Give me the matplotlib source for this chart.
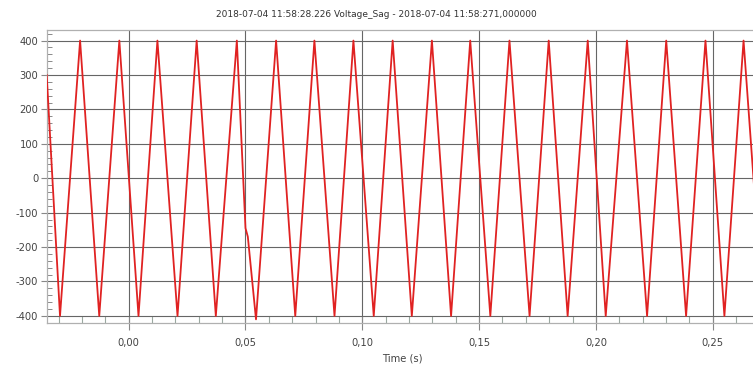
import matplotlib
matplotlib.use('Agg')
import matplotlib.pyplot as plt
from matplotlib.ticker import MultipleLocator, FuncFormatter

# waveform vertices (time in s, voltage)
time_s = [-0.0351, -0.0294, -0.0208, -0.0126, -0.0040, 0.0042, 0.0123, 0.0209,
          0.0291, 0.0373, 0.0463, 0.0500, 0.0510, 0.0545, 0.0631, 0.0713,
          0.0795, 0.0881, 0.0962, 0.1049, 0.1130, 0.1212, 0.1298, 0.1380,
          0.1462, 0.1548, 0.1630, 0.1716, 0.1798, 0.1879, 0.1965, 0.2042,
          0.2133, 0.2219, 0.2301, 0.2386, 0.2469, 0.2550, 0.2632, 0.2717]
voltage = [300, -400, 400, -400, 400, -400, 400, -400,
           400, -400, 400, -145, -170, -410, 400, -400,
           400, -400, 400, -400, 400, -400, 400, -400,
           400, -400, 400, -400, 400, -400, 400, -400,
           400, -400, 400, -400, 400, -400, 400, -400]

title = '2018-07-04 11:58:28.226 Voltage_Sag - 2018-07-04 11:58:271,000000'
xlabel = 'Time (s)'

fig = plt.figure(figsize=(7.53, 3.74), dpi=100)
ax = fig.add_axes([0.062, 0.136, 0.945, 0.784])

ax.plot(time_s, voltage, color='#e02222', linewidth=1.3, zorder=3)

ax.set_xlim(-0.0351, 0.2695)
ax.set_ylim(-421, 431)

ax.xaxis.set_major_locator(MultipleLocator(0.05))
ax.xaxis.set_minor_locator(MultipleLocator(0.01))
ax.yaxis.set_major_locator(MultipleLocator(100))
ax.yaxis.set_minor_locator(MultipleLocator(20))
ax.xaxis.set_major_formatter(FuncFormatter(lambda v, p: f'{v:.2f}'.replace('.', ',').replace('-0,00', '0,00')))
ax.yaxis.set_major_formatter(FuncFormatter(lambda v, p: f'{v:.0f}'))

ax.grid(True, which='major', color='#666666', linewidth=0.8, zorder=1)

ax.tick_params(axis='x', which='major', direction='inout', length=10, width=0.8,
               color='#888888', labelsize=7.2, labelcolor='#444444', pad=6)
ax.tick_params(axis='x', which='minor', direction='in', length=5, width=0.8,
               color='#9aa8a0')
ax.tick_params(axis='y', which='major', direction='out', length=4, width=0.8,
               color='#888888', labelsize=7.2, labelcolor='#444444', pad=2)
ax.tick_params(axis='y', which='minor', direction='in', length=3.5, width=0.7,
               color='#8a8a8a')

for side in ['left', 'bottom', 'top', 'right']:
    ax.spines[side].set_color('#b0b0b0')
    ax.spines[side].set_linewidth(0.9)

ax.set_xlabel(xlabel, fontsize=7.2, color='#444444', labelpad=4)
fig.text(0.5, 0.962, title, ha='center', va='center', fontsize=6.5, color='#333333')

fig.savefig('out.png', dpi=100)
